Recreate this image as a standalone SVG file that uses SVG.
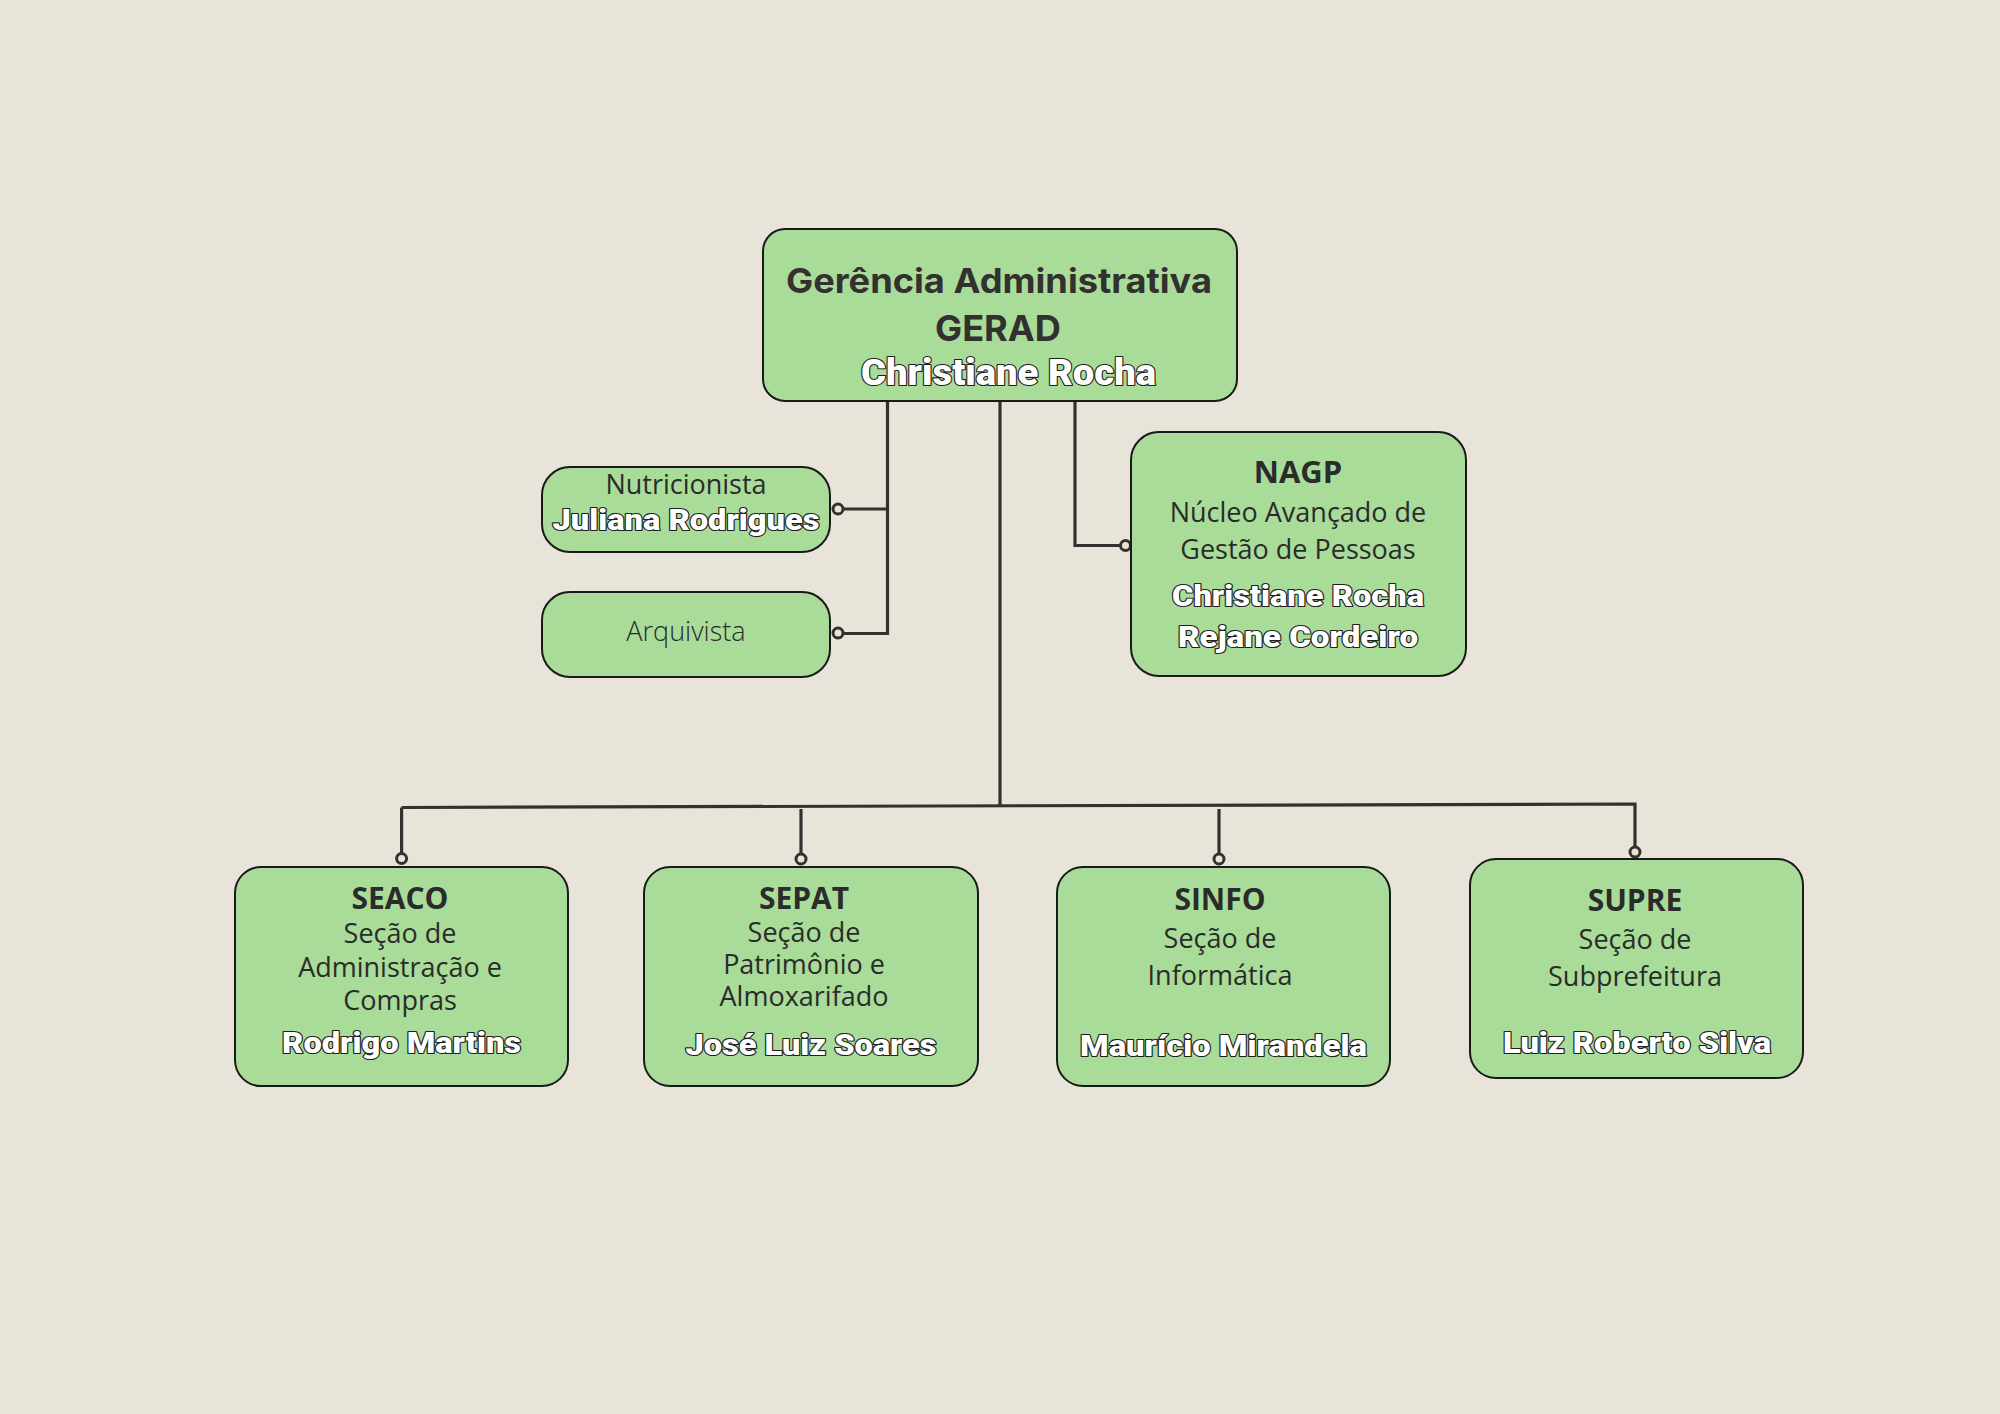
<svg xmlns="http://www.w3.org/2000/svg" width="2000" height="1414" viewBox="0 0 2000 1414">
<style>
.box{fill:#A8DC98;stroke:#1a1a1a;stroke-width:2}
.ln{fill:none;stroke:#333030;stroke-width:3.2}
.dot{fill:#E8E4D9;stroke:#333030;stroke-width:3}
.t{font-family:"Open Sans","Liberation Sans",sans-serif;fill:#2b2b2b;text-anchor:middle}
.h{font-weight:700}
.r{font-weight:400;font-size:27px}
.l{font-weight:300;font-size:27px}
.ttl{font-family:Inter,Roboto,"Liberation Sans",sans-serif;font-weight:700;fill:#333030;text-anchor:middle}
.nm{font-family:Roboto,Inter,"Liberation Sans",sans-serif;font-weight:900;fill:#ffffff;stroke:#1f1f1f;stroke-width:2.2;paint-order:stroke;stroke-linejoin:round;text-anchor:middle}
</style>
<rect width="2000" height="1414" fill="#E8E4D9"/>
<g id="connectors">
<path class="ln" d="M1000 401 L1000 806"/>
<path class="ln" d="M401.6 807.5 L1635 804 L1635 847"/>
<path class="ln" d="M401.6 807.5 L401.6 853"/>
<path class="ln" d="M801 809 L801 854"/>
<path class="ln" d="M1219 809 L1219 854"/>
<path class="ln" d="M887.5 401 L887.5 633.5 L843 633.5"/>
<path class="ln" d="M887.5 509 L843 509"/>
<path class="ln" d="M1075 401 L1075 545.5 L1121 545.5"/>
<circle class="dot" cx="838" cy="509" r="5"/>
<circle class="dot" cx="838" cy="633" r="5"/>
<circle class="dot" cx="1125.5" cy="545.5" r="5"/>
<circle class="dot" cx="401.6" cy="858.5" r="5"/>
<circle class="dot" cx="801" cy="859" r="5"/>
<circle class="dot" cx="1219" cy="859" r="5"/>
<circle class="dot" cx="1635" cy="852" r="5"/>
</g>
<g id="gerad">
<rect class="box" x="763" y="229" width="474" height="172" rx="22"/>
<text class="ttl" x="999" y="292.5" font-size="34" textLength="426" lengthAdjust="spacingAndGlyphs">Gerência Administrativa</text>
<text class="ttl" x="998" y="340.5" font-size="36" textLength="126" lengthAdjust="spacingAndGlyphs">GERAD</text>
<text class="nm" x="1008.5" y="385" font-size="36" textLength="295" lengthAdjust="spacingAndGlyphs">Christiane Rocha</text>
</g>
<g id="nutricionista">
<rect class="box" x="542" y="467" width="288" height="85" rx="28"/>
<text class="t r" x="686" y="494">Nutricionista</text>
<text class="nm" x="686" y="530" font-size="29" textLength="267" lengthAdjust="spacingAndGlyphs">Juliana Rodrigues</text>
</g>
<g id="arquivista">
<rect class="box" x="542" y="592" width="288" height="85" rx="28"/>
<text class="t l" x="686" y="640.5">Arquivista</text>
</g>
<g id="nagp">
<rect class="box" x="1131" y="432" width="335" height="244" rx="28"/>
<text class="t h" x="1298" y="483" font-size="31">NAGP</text>
<text class="t r" x="1298" y="521.5">Núcleo Avançado de</text>
<text class="t r" x="1298" y="559">Gestão de Pessoas</text>
<text class="nm" x="1298" y="606" font-size="29" textLength="252" lengthAdjust="spacingAndGlyphs">Christiane Rocha</text>
<text class="nm" x="1298" y="646.5" font-size="29" textLength="240" lengthAdjust="spacingAndGlyphs">Rejane Cordeiro</text>
</g>
<g id="seaco">
<rect class="box" x="235" y="867" width="333" height="219" rx="26"/>
<text class="t h" x="400" y="909" font-size="30">SEACO</text>
<text class="t r" x="400" y="943">Seção de</text>
<text class="t r" x="400" y="976.5">Administração e</text>
<text class="t r" x="400" y="1010">Compras</text>
<text class="nm" x="401.6" y="1052.5" font-size="29" textLength="239" lengthAdjust="spacingAndGlyphs">Rodrigo Martins</text>
</g>
<g id="sepat">
<rect class="box" x="644" y="867" width="334" height="219" rx="26"/>
<text class="t h" x="804" y="909" font-size="30">SEPAT</text>
<text class="t r" x="804" y="941.5">Seção de</text>
<text class="t r" x="804" y="973.5">Patrimônio e</text>
<text class="t r" x="804" y="1005.5">Almoxarifado</text>
<text class="nm" x="811" y="1055" font-size="29" textLength="251" lengthAdjust="spacingAndGlyphs">José Luiz Soares</text>
</g>
<g id="sinfo">
<rect class="box" x="1057" y="867" width="333" height="219" rx="26"/>
<text class="t h" x="1220" y="910" font-size="30">SINFO</text>
<text class="t r" x="1220" y="947.5">Seção de</text>
<text class="t r" x="1220" y="985">Informática</text>
<text class="nm" x="1223.5" y="1056" font-size="29" textLength="287" lengthAdjust="spacingAndGlyphs">Maurício Mirandela</text>
</g>
<g id="supre">
<rect class="box" x="1470" y="859" width="333" height="219" rx="26"/>
<text class="t h" x="1635" y="910.5" font-size="30">SUPRE</text>
<text class="t r" x="1635" y="949">Seção de</text>
<text class="t r" x="1635" y="986">Subprefeitura</text>
<text class="nm" x="1637" y="1052.5" font-size="29" textLength="268" lengthAdjust="spacingAndGlyphs">Luiz Roberto Silva</text>
</g>
</svg>
